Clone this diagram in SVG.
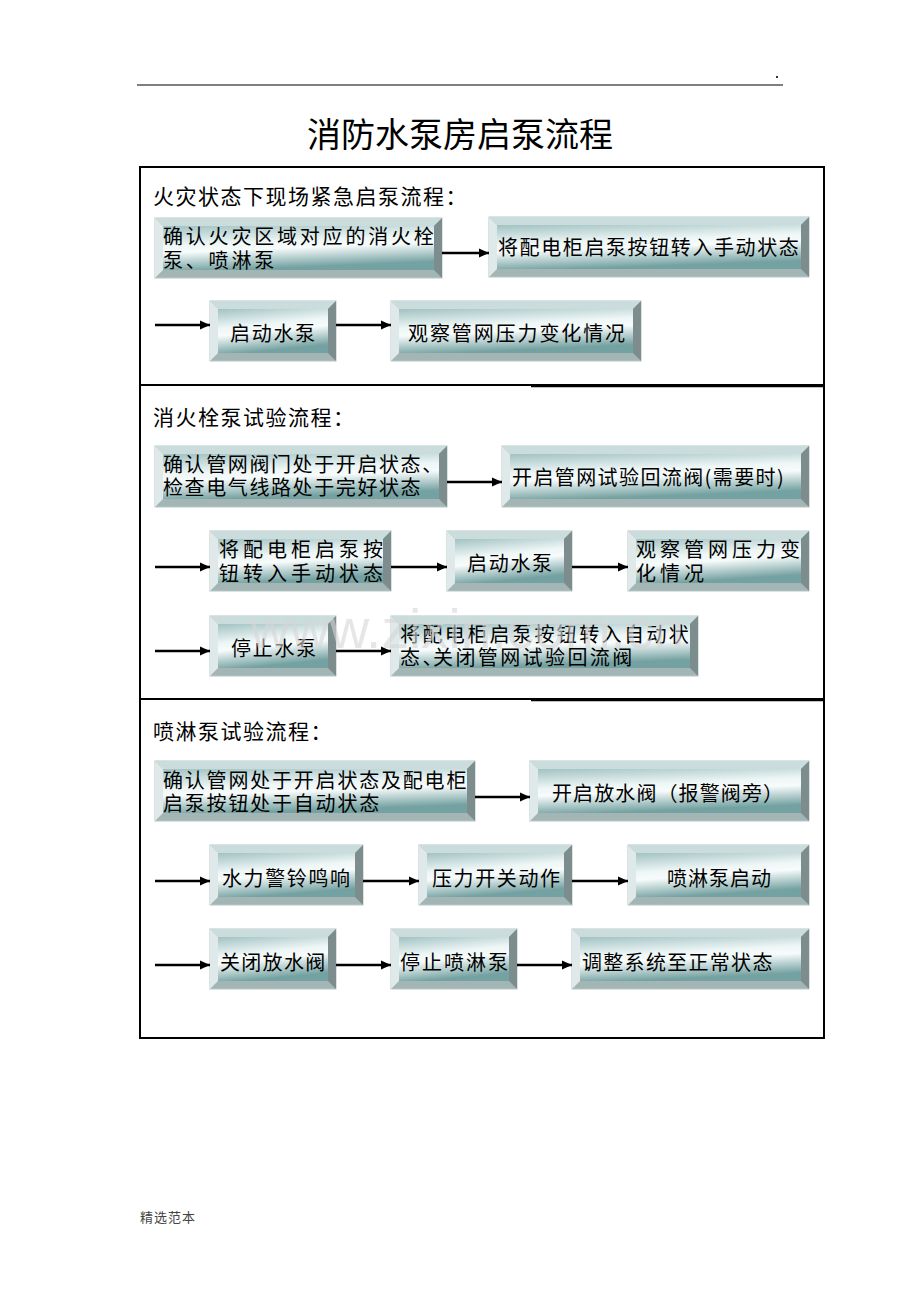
<svg xmlns="http://www.w3.org/2000/svg" width="920" height="1302" viewBox="0 0 920 1302">
<defs>
<linearGradient id="faceG" x1="0" y1="0" x2="0.25" y2="1">
<stop offset="0" stop-color="#a2c2c2"/>
<stop offset="0.42" stop-color="#eef6f6"/>
<stop offset="0.58" stop-color="#f7fbfb"/>
<stop offset="1" stop-color="#74a1a1"/>
</linearGradient>
<marker id="ah" markerUnits="userSpaceOnUse" markerWidth="10" markerHeight="10" refX="10" refY="5" orient="auto">
<path d="M0,0.5 L10,5 L0,9.5 z" fill="#000"/>
</marker>
<style>
.ob{fill:#a3b5b5;stroke:#b5c6c6;stroke-width:1}
.tp{fill:#cbdcdc}
.lf{fill:#dfe9e9}
.rt{fill:#7d8d8d}
.fc{fill:url(#faceG)}
.t{font-family:"Noto Sans CJK SC","Noto Sans",sans-serif;font-size:20px;fill:#000}
.h{font-family:"Noto Sans CJK SC","Noto Sans",sans-serif;font-size:21px;fill:#000;letter-spacing:1.5px}
.ar{stroke:#000;stroke-width:2.5;fill:none;marker-end:url(#ah)}
.fr{fill:none;stroke:#000;stroke-width:2}
</style>
</defs>
<rect width="920" height="1302" fill="#fff"/>
<line x1="137" y1="85" x2="783" y2="85" stroke="#555" stroke-width="1.5"/>
<rect x="776" y="76" width="2" height="2" fill="#333"/>
<text x="460" y="147" text-anchor="middle" font-family="'Noto Sans CJK SC',sans-serif" font-size="34">消防水泵房启泵流程</text>

<g id="frame">
<rect class="fr" x="140" y="167" width="684" height="871"/>
<line x1="140" y1="385" x2="824" y2="385" stroke="#000" stroke-width="2"/>
<line x1="531" y1="386" x2="824" y2="386" stroke="#000" stroke-width="2.5"/>
<line x1="140" y1="699" x2="824" y2="699" stroke="#000" stroke-width="2"/>
<line x1="531" y1="700" x2="824" y2="700" stroke="#000" stroke-width="2.5"/>
</g>

<text class="h" x="153" y="204">火灾状态下现场紧急启泵流程：</text>
<text class="h" x="153" y="425">消火栓泵试验流程：</text>
<text class="h" x="153" y="739">喷淋泵试验流程：</text>

<g id="nA">
<rect class="ob" x="155" y="218" width="287" height="60"/>
<polygon class="tp" points="155,218 442,218 434,226 163,226"/>
<polygon class="lf" points="155,218 163,226 163,270 155,278"/>
<polygon class="rt" points="442,218 442,278 434,270 434,226"/>
<rect class="fc" x="163" y="226" width="271" height="44"/>
<text class="t" x="163" y="244" letter-spacing="2.8">确认火灾区域对应的消火栓</text>
<text class="t" x="163" y="268" letter-spacing="2.8">泵、喷淋泵</text>
</g>
<g id="nB">
<rect class="ob" x="489" y="217" width="320" height="60"/>
<polygon class="tp" points="489,217 809,217 801,225 497,225"/>
<polygon class="lf" points="489,217 497,225 497,269 489,277"/>
<polygon class="rt" points="809,217 809,277 801,269 801,225"/>
<rect class="fc" x="497" y="225" width="304" height="44"/>
<text class="t" x="498" y="255" letter-spacing="1.6">将配电柜启泵按钮转入手动状态</text>
</g>
<g id="nC">
<rect class="ob" x="210" y="301" width="126" height="60"/>
<polygon class="tp" points="210,301 336,301 328,309 218,309"/>
<polygon class="lf" points="210,301 218,309 218,353 210,361"/>
<polygon class="rt" points="336,301 336,361 328,353 328,309"/>
<rect class="fc" x="218" y="309" width="110" height="44"/>
<text class="t" x="230" y="341" letter-spacing="1.7">启动水泵</text>
</g>
<g id="nD">
<rect class="ob" x="391" y="301" width="250" height="60"/>
<polygon class="tp" points="391,301 641,301 633,309 399,309"/>
<polygon class="lf" points="391,301 399,309 399,353 391,361"/>
<polygon class="rt" points="641,301 641,361 633,353 633,309"/>
<rect class="fc" x="399" y="309" width="234" height="44"/>
<text class="t" x="408" y="341" letter-spacing="1.9">观察管网压力变化情况</text>
</g>

<g id="nE">
<rect class="ob" x="155" y="446" width="292" height="61"/>
<polygon class="tp" points="155,446 447,446 439,454 163,454"/>
<polygon class="lf" points="155,446 163,454 163,499 155,507"/>
<polygon class="rt" points="447,446 447,507 439,499 439,454"/>
<rect class="fc" x="163" y="454" width="276" height="45"/>
<text class="t" x="163" y="472" letter-spacing="1.6">确认管网阀门处于开启状态、</text>
<text class="t" x="163" y="495" letter-spacing="1.6">检查电气线路处于完好状态</text>
</g>
<g id="nF">
<rect class="ob" x="502" y="446" width="307" height="61"/>
<polygon class="tp" points="502,446 809,446 801,454 510,454"/>
<polygon class="lf" points="502,446 510,454 510,499 502,507"/>
<polygon class="rt" points="809,446 809,507 801,499 801,454"/>
<rect class="fc" x="510" y="454" width="291" height="45"/>
<text class="t" x="512" y="485" letter-spacing="1.4">开启管网试验回流阀(需要时)</text>
</g>
<g id="nG">
<rect class="ob" x="210" y="531" width="181" height="60"/>
<polygon class="tp" points="210,531 391,531 383,539 218,539"/>
<polygon class="lf" points="210,531 218,539 218,583 210,591"/>
<polygon class="rt" points="391,531 391,591 383,583 383,539"/>
<rect class="fc" x="218" y="539" width="165" height="44"/>
<text class="t" x="219" y="557" letter-spacing="4">将配电柜启泵按</text>
<text class="t" x="219" y="581" letter-spacing="4">钮转入手动状态</text>
</g>
<g id="nH">
<rect class="ob" x="447" y="531" width="125" height="60"/>
<polygon class="tp" points="447,531 572,531 564,539 455,539"/>
<polygon class="lf" points="447,531 455,539 455,583 447,591"/>
<polygon class="rt" points="572,531 572,591 564,583 564,539"/>
<rect class="fc" x="455" y="539" width="109" height="44"/>
<text class="t" x="467" y="571" letter-spacing="1.7">启动水泵</text>
</g>
<g id="nI">
<rect class="ob" x="628" y="531" width="181" height="60"/>
<polygon class="tp" points="628,531 809,531 801,539 636,539"/>
<polygon class="lf" points="628,531 636,539 636,583 628,591"/>
<polygon class="rt" points="809,531 809,591 801,583 801,539"/>
<rect class="fc" x="636" y="539" width="165" height="44"/>
<text class="t" x="636" y="557" letter-spacing="4">观察管网压力变</text>
<text class="t" x="636" y="581" letter-spacing="4">化情况</text>
</g>
<g id="nJ">
<rect class="ob" x="210" y="616" width="126" height="60"/>
<polygon class="tp" points="210,616 336,616 328,624 218,624"/>
<polygon class="lf" points="210,616 218,624 218,668 210,676"/>
<polygon class="rt" points="336,616 336,676 328,668 328,624"/>
<rect class="fc" x="218" y="624" width="110" height="44"/>
<text class="t" x="231" y="656" letter-spacing="1.7">停止水泵</text>
</g>
<g id="nK">
<rect class="ob" x="391" y="616" width="307" height="60"/>
<polygon class="tp" points="391,616 698,616 690,624 399,624"/>
<polygon class="lf" points="391,616 399,624 399,668 391,676"/>
<polygon class="rt" points="698,616 698,676 690,668 690,624"/>
<rect class="fc" x="399" y="624" width="291" height="44"/>
<text class="t" x="400" y="642" letter-spacing="2.4">将配电柜启泵按钮转入自动状</text>
<text class="t" x="400" y="665" letter-spacing="2.4">态、<tspan x="433">关闭管网试验回流阀</tspan></text>
</g>

<g id="nL">
<rect class="ob" x="155" y="761" width="320" height="60"/>
<polygon class="tp" points="155,761 475,761 467,769 163,769"/>
<polygon class="lf" points="155,761 163,769 163,813 155,821"/>
<polygon class="rt" points="475,761 475,821 467,813 467,769"/>
<rect class="fc" x="163" y="769" width="304" height="44"/>
<text class="t" x="163" y="788" letter-spacing="1.8">确认管网处于开启状态及配电柜</text>
<text class="t" x="163" y="811" letter-spacing="1.8">启泵按钮处于自动状态</text>
</g>
<g id="nM">
<rect class="ob" x="530" y="761" width="279" height="60"/>
<polygon class="tp" points="530,761 809,761 801,769 538,769"/>
<polygon class="lf" points="530,761 538,769 538,813 530,821"/>
<polygon class="rt" points="809,761 809,821 801,813 801,769"/>
<rect class="fc" x="538" y="769" width="263" height="44"/>
<text class="t" x="552" y="801" letter-spacing="1.1">开启放水阀（报警阀旁）</text>
</g>
<g id="nN">
<rect class="ob" x="210" y="845" width="153" height="60"/>
<polygon class="tp" points="210,845 363,845 355,853 218,853"/>
<polygon class="lf" points="210,845 218,853 218,897 210,905"/>
<polygon class="rt" points="363,845 363,905 355,897 355,853"/>
<rect class="fc" x="218" y="853" width="137" height="44"/>
<text class="t" x="222" y="886" letter-spacing="1.6">水力警铃鸣响</text>
</g>
<g id="nO">
<rect class="ob" x="419" y="845" width="153" height="60"/>
<polygon class="tp" points="419,845 572,845 564,853 427,853"/>
<polygon class="lf" points="419,845 427,853 427,897 419,905"/>
<polygon class="rt" points="572,845 572,905 564,897 564,853"/>
<rect class="fc" x="427" y="853" width="137" height="44"/>
<text class="t" x="432" y="886" letter-spacing="1.6">压力开关动作</text>
</g>
<g id="nP">
<rect class="ob" x="628" y="845" width="181" height="60"/>
<polygon class="tp" points="628,845 809,845 801,853 636,853"/>
<polygon class="lf" points="628,845 636,853 636,897 628,905"/>
<polygon class="rt" points="809,845 809,905 801,897 801,853"/>
<rect class="fc" x="636" y="853" width="165" height="44"/>
<text class="t" x="667" y="886" letter-spacing="1">喷淋泵启动</text>
</g>
<g id="nQ">
<rect class="ob" x="210" y="929" width="126" height="60"/>
<polygon class="tp" points="210,929 336,929 328,937 218,937"/>
<polygon class="lf" points="210,929 218,937 218,981 210,989"/>
<polygon class="rt" points="336,929 336,989 328,981 328,937"/>
<rect class="fc" x="218" y="937" width="110" height="44"/>
<text class="t" x="220" y="970" letter-spacing="1.3">关闭放水阀</text>
</g>
<g id="nR">
<rect class="ob" x="391" y="929" width="126" height="60"/>
<polygon class="tp" points="391,929 517,929 509,937 399,937"/>
<polygon class="lf" points="391,929 399,937 399,981 391,989"/>
<polygon class="rt" points="517,929 517,989 509,981 509,937"/>
<rect class="fc" x="399" y="937" width="110" height="44"/>
<text class="t" x="400" y="970" letter-spacing="2">停止喷淋泵</text>
</g>
<g id="nS">
<rect class="ob" x="572" y="929" width="237" height="60"/>
<polygon class="tp" points="572,929 809,929 801,937 580,937"/>
<polygon class="lf" points="572,929 580,937 580,981 572,989"/>
<polygon class="rt" points="809,929 809,989 801,981 801,937"/>
<rect class="fc" x="580" y="937" width="221" height="44"/>
<text class="t" x="582" y="970" letter-spacing="1.3">调整系统至正常状态</text>
</g>

<g id="connectors">
<line class="ar" x1="442" y1="253" x2="489" y2="253"/>
<line class="ar" x1="155" y1="325" x2="210" y2="325"/>
<line class="ar" x1="336" y1="325" x2="391" y2="325"/>
<line class="ar" x1="447" y1="482" x2="502" y2="482"/>
<line class="ar" x1="155" y1="567" x2="210" y2="567"/>
<line class="ar" x1="391" y1="567" x2="447" y2="567"/>
<line class="ar" x1="572" y1="567" x2="628" y2="567"/>
<line class="ar" x1="155" y1="651" x2="210" y2="651"/>
<line class="ar" x1="336" y1="651" x2="391" y2="651"/>
<line class="ar" x1="475" y1="797" x2="530" y2="797"/>
<line class="ar" x1="155" y1="881" x2="210" y2="881"/>
<line class="ar" x1="363" y1="881" x2="419" y2="881"/>
<line class="ar" x1="572" y1="881" x2="628" y2="881"/>
<line class="ar" x1="155" y1="965" x2="210" y2="965"/>
<line class="ar" x1="336" y1="965" x2="391" y2="965"/>
<line class="ar" x1="517" y1="965" x2="572" y2="965"/>
</g>

<text x="250" y="648" font-family="'Liberation Sans',sans-serif" font-size="55" fill="#d6d6d6" fill-opacity="0.6">www.zixin.com.cn</text>
<text x="140" y="1222" font-family="'Noto Sans CJK SC',sans-serif" font-size="13" fill="#444" letter-spacing="1">精选范本</text>
</svg>
